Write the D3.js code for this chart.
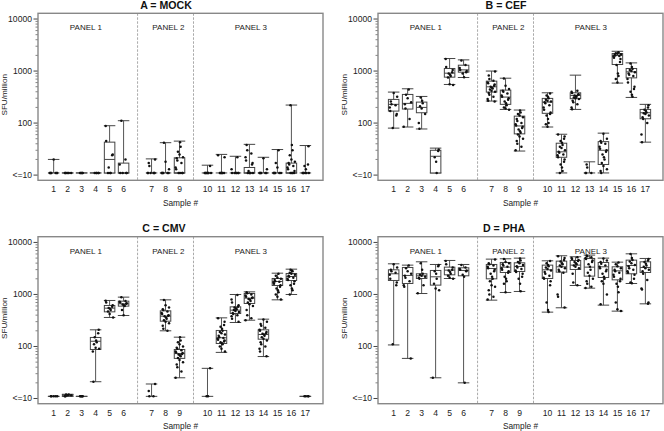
<!DOCTYPE html>
<html><head><meta charset="utf-8">
<script src="https://cdn.jsdelivr.net/npm/d3@7"></script>
<style>body{margin:0;background:#fff}svg{display:block;font-family:"Liberation Sans",Arial,Helvetica,sans-serif}</style>
</head><body><svg id="c" width="664" height="431"></svg>
<script>
const samples = d3.range(1, 18);
const panelNames = ["PANEL 1", "PANEL 2", "PANEL 3"];
const yTickValues = [10, 100, 1000, 10000];
const yTickLabels = ["<=10", "100", "1000", "10000"];
const titles = ["A = MOCK", "B = CEF", "C = CMV", "D = PHA"];

// [min, q1, median, q3, max] per sample
const mockStats = [[11,11,11,11,20],[11,11,11,11,11],[11,11,11,11,11],[11,11,11,11,11],[11,11,20,43,89],[11,11,11,17,111],
 [11,11,11,11,20.5],[11,11,11,11,42],[11,11,11,21.5,45],
 [11,11,11,11,15.5],[11,11,11,11,25],[11,11,11,11,23],[11,11,11,14,39],[11,11,11,11,22],[11,11,11,11,31],[11,11,11,17,222],[11,11,11,11,37]];
const mockPoints = [[20,11,11,11,11,11,11,11],[11,11,11,11,11,11],[11,11,11,11,11],[11,11,11,11,11],[88,45,25,24,14,11,11,11],[111,20,16,11,11,11,11],
 [20,17,15,11,11,11,11,11,11],[42,18,13,11,11,11,11,11,11],[43,35,28,25,22,21,19,17,14,13,11,11,11,11],
 [15,11,11,11,11,11,11,11,11],[24,22,11,11,11,11,11,11],[22,13,11,11,11,11,11,11],[38,30,26,22,19,17,16,12,11,11,11,11,11],[21,13,11,11,11,11,11,11],[30,17,14,11,11,11,11,11,11],[220,38,30,24,20,18,17,16,15,14,13,12,11,11,11,11],[36,16,15,13,11,11,11,11,11,11]];

const cefStats = [[80,170,229,285,394],[84,186,239,355,456],[77,158,200,253,325],[11,11,23,30,33],[552,763,910,1120,1740],[752,951,1054,1295,1640],
 [265,394,498,640,1000],[183,229,316,430,729],[29,62,88,136,178],
 [84,154,253,298,382],[11,22,28,41,61],[183,294,340,382,834],[11,11,11,11,18],[11,16,30,44,64],[587,1335,1985,2170,2400],[311,740,966,1120,1435],[43,121,158,183,229]];
const cefPoints = [[380,320,260,230,220,200,170,150,140,80],[440,350,300,250,230,190,120,85],[310,270,240,210,190,150,100,78],[31,29,22,18,11],[1700,1200,1050,950,900,850,800,750,560,540],[1600,1300,1150,1050,1000,950,900,760],
 [980,820,700,650,600,580,550,520,500,480,460,440,420,400,380,350,320,290,270,260],[720,520,450,420,400,370,340,320,300,280,260,240,220,200,190,180],[175,160,150,140,130,120,110,100,95,90,85,80,75,70,65,60,55,50,45,40,35,30],
 [370,340,320,300,280,270,260,250,240,220,200,180,160,150,140,120,100,95,85],[60,55,50,45,42,38,35,33,30,28,27,25,24,22,20,18,16,14,12,11],[420,400,380,360,350,340,330,320,310,300,290,270,250,230,200,185],[16,14,11,11,11],[62,50,45,42,40,35,32,30,28,25,22,20,17,15,13,12,11],[2300,2200,2150,2100,2050,2000,1950,1900,1800,1700,1500,1300,900,800,700,600],[1400,1200,1100,1050,1000,950,900,850,800,700,600,500,450,400,350,320],[220,200,180,170,160,155,150,140,130,120,100,60,43]];

const cmvStats = [[11,11,11,11,11],[11,11,11.5,12,12],[11,11,11,11,11],[21,87.5,126,149,209],[361,463,545,614,766],[394,596,660,743,888],
 [11,11,11,11,19],[200,306,383,484,788],[25,59,73,87.5,151],
 [11,11,11,11,38],[77,114,147,203,355],[289,430,499,578,998],[320,670,849,1042,1122],[64,138,170,209,335],[788,1486,1775,2027,2564],[998,1854,2213,2529,3062],[11,11,11,11,11]];
const cmvPoints = [[11,11,11,11,11],[12,12,11.5,11.5,11,11],[11,11,11,11,11],[210,180,150,130,120,110,95,90,80,21],[760,700,620,580,550,530,500,470,420,360],[880,750,720,700,680,660,640,620,600,500,400],
 [19,14,11,11],[780,620,560,520,500,470,440,420,400,390,380,360,340,320,300,280,250,220,200],[150,130,120,110,100,95,90,85,80,77,75,72,70,68,65,60,55,50,45,40,33,25],
 [38,11,11],[350,300,260,240,220,200,190,180,170,160,150,145,140,135,130,125,120,115,110,100,90,80],[980,800,700,620,580,560,540,520,500,480,460,440,420,400,380,340,300],[1100,1050,1000,950,900,870,850,820,800,750,700,650,600,500,400,350,320],[330,300,270,250,230,210,200,190,180,175,170,160,150,140,130,120,110,100,90,80,65],[2500,2300,2100,2000,1900,1800,1750,1700,1600,1500,1400,1300,1200,1100,1000,900,800],[3000,2900,2800,2600,2500,2400,2300,2200,2100,2000,1900,1800,1600,1500,1300,1200,1000],[11,11,11,11]];

const phaStats = [[107,1856,2495,2977,3880],[59,1624,2317,3300,3660],[1042,2027,2283,2495,4240],[25,1510,2183,2892,3768],[2027,2384,2933,3350,4500],[20,2283,2892,3253,3768],
 [777,1996,3157,3768,4774],[1091,2645,3350,4118,4845],[1141,2762,3451,4060,4990],
 [457,2027,2977,3660,4433],[554,2684,3400,4369,5540],[1486,3020,3660,4500,5297],[1321,2249,3350,4918,5704],[623,2118,3400,4118,4990],[478,1909,2845,3400,4178],[1624,2495,3605,4565,6040],[660,2645,3300,4240,4918]];
const phaPoints = [[3800,3300,3000,2800,2600,2400,2000,1700,1500,110],[3600,3200,2800,2500,2300,2100,1800,1500,1400,59],[4000,3000,2500,2400,2300,2200,2100,2000,1500,1050],[3700,3500,2800,2500,2000,1600,1300,1200,25],[4400,3800,3300,3000,2900,2700,2500,2300,2100,2000],[3700,3300,3100,3000,2900,2800,2400,2200,20],
 [4700,4000,3800,3600,3400,3200,3000,2800,2500,2200,2000,1800,1500,1400,1200,1000,900,800],[4800,4200,4000,3800,3600,3400,3200,3000,2800,2600,2200,2000,1800,1600,1100],[4900,4500,4200,4000,3700,3500,3300,3100,2900,2700,2500,2200,2000,1600,1150],
 [4400,4000,3700,3500,3300,3100,2900,2700,2500,2300,2100,2000,1800,1500,700,500,460],[5400,5000,4600,4300,4000,3800,3600,3400,3200,3000,2800,2600,1000,900,560],[5200,5000,4800,4600,4400,4200,4000,3800,3600,3400,3200,2500,1700,1500],[5600,5400,5200,5000,4800,4500,4200,3800,3400,3000,2600,2300,2000,1800,1600,1400,1330],[4900,4500,4200,3900,3600,3400,3200,3000,2800,2500,2200,2000,1800,1600,1000,650],[4100,3800,3500,3200,3000,2800,2600,2400,2200,2000,1800,1600,1400,1100,700,520,480],[6000,5000,4600,4300,4000,3700,3500,3200,3000,2800,2600,2400,2000,1700,1650],[4800,4500,4200,3900,3600,3400,3200,3000,2800,2500,1900,1300,1250,700,660]];

const panels = [
  {title: titles[0], stats: mockStats, points: mockPoints, x0: 38, y0: 13.3, tx: 166},
  {title: titles[1], stats: cefStats, points: cefPoints, x0: 378, y0: 13.3, tx: 506},
  {title: titles[2], stats: cmvStats, points: cmvPoints, x0: 38, y0: 236.7, tx: 164},
  {title: titles[3], stats: phaStats, points: phaPoints, x0: 378, y0: 236.7, tx: 504}
];

const W = 285, H = 167;
const slotOf = s => s <= 6 ? s - 1 : (s <= 9 ? s : s + 1);
const x = d3.scaleLinear().domain([-1.12, 19.26]).range([0, W]);
const y = d3.scaleLog().domain([Math.pow(10, 0.9), Math.pow(10, 4.11)]).range([H, 0]);
const jitterPattern = [0, 2.6, -2.2, 1.1, -3.4, 3.5, -0.9, 1.9, -1.6, 3.1, -2.8, 0.5, -3.9];
const jitter = (j, i) => jitterPattern[(j * 5 + i * 3) % jitterPattern.length];
const boxW = 10.5;

const svg = d3.select("#c");

panels.forEach(p => {
  const g = svg.append("g").attr("transform", `translate(${p.x0},${p.y0})`);

  svg.append("text").attr("x", p.tx).attr("y", p.y0 - 4.6).attr("text-anchor", "middle")
    .attr("font-size", 10.6).attr("font-weight", "bold").attr("fill", "#111").text(p.title);

  // separators
  [6, 10].forEach(s => g.append("line").attr("x1", x(s)).attr("x2", x(s)).attr("y1", 0).attr("y2", H)
    .attr("stroke", "#aaa").attr("stroke-width", 1).attr("stroke-dasharray", "2.5,1.5"));

  // panel labels
  [2.3, 8.2, 14.1].forEach((s, i) => g.append("text").attr("x", x(s)).attr("y", 17).attr("text-anchor", "middle")
    .attr("font-size", 8).attr("fill", "#222").text(panelNames[i]));

  // y axis ticks
  const minor = [];
  [10, 100, 1000].forEach(d => d3.range(2, 10).forEach(m => minor.push(d * m)));
  g.selectAll(".mn").data(minor).join("line").attr("x1", -2.5).attr("x2", 0)
    .attr("y1", d => y(d)).attr("y2", d => y(d)).attr("stroke", "#666").attr("stroke-width", 0.8);
  g.selectAll(".mj").data(yTickValues).join("line").attr("x1", -4.5).attr("x2", 0)
    .attr("y1", d => y(d)).attr("y2", d => y(d)).attr("stroke", "#444").attr("stroke-width", 1);
  g.selectAll(".yl").data(yTickValues).join("text").attr("x", -6).attr("y", d => y(d) + 3)
    .attr("text-anchor", "end").attr("font-size", 8.6).attr("fill", "#222").text((d, i) => yTickLabels[i]);
  g.append("text").attr("transform", `translate(-31.2,${H / 2 - 2}) rotate(-90)`).attr("text-anchor", "middle")
    .attr("font-size", 8.1).attr("fill", "#222").text("SFU/million");

  // x labels
  g.selectAll(".xl").data(samples).join("text").attr("x", s => x(slotOf(s))).attr("y", H + 12)
    .attr("text-anchor", "middle").attr("font-size", 8.6).attr("fill", "#222").text(s => s);
  g.append("text").attr("x", W / 2).attr("y", H + 25.5).attr("text-anchor", "middle")
    .attr("font-size", 8.3).attr("fill", "#222").text("Sample #");

  // boxes
  samples.forEach((s, i) => {
    const cx = x(slotOf(s));
    const [mn, q1, md, q3, mx] = p.stats[i];
    const bg = g.append("g");
    bg.append("line").attr("x1", cx).attr("x2", cx).attr("y1", y(mn)).attr("y2", y(mx))
      .attr("stroke", "#555").attr("stroke-width", 1);
    [mn, mx].forEach(v => bg.append("line").attr("x1", cx - boxW / 2 - 0.5).attr("x2", cx + boxW / 2 + 0.5)
      .attr("y1", y(v)).attr("y2", y(v)).attr("stroke", "#444").attr("stroke-width", 1));
    if (y(q1) - y(q3) > 0.5) {
      bg.append("rect").attr("x", cx - boxW / 2).attr("width", boxW).attr("y", y(q3)).attr("height", y(q1) - y(q3))
        .attr("fill", "#fff").attr("stroke", "#444").attr("stroke-width", 1);
      bg.append("line").attr("x1", cx - boxW / 2).attr("x2", cx + boxW / 2).attr("y1", y(md)).attr("y2", y(md))
        .attr("stroke", "#444").attr("stroke-width", 1);
    }
    bg.selectAll("circle").data(p.points[i]).join("circle")
      .attr("cx", (d, j) => cx + jitter(j, i)).attr("cy", d => y(d)).attr("r", 1.25).attr("fill", "#111");
  });

  g.append("rect").attr("x", 0).attr("y", 0).attr("width", W).attr("height", H)
    .attr("fill", "none").attr("stroke", "#888").attr("stroke-width", 1.4);
});
</script></body></html>
